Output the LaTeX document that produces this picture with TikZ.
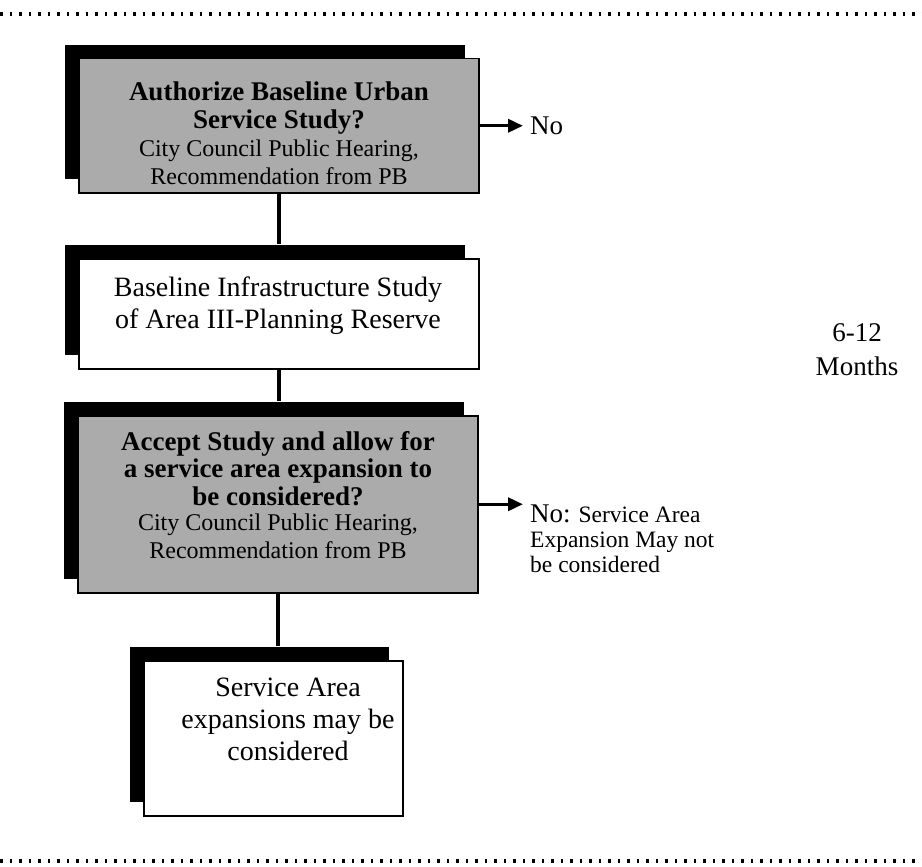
\documentclass[tikz,border=0pt]{standalone}
\usepackage{fontspec}
\setmainfont{Liberation Serif}
\usetikzlibrary{shadows,arrows.meta}
\begin{document}
\begin{tikzpicture}[x=1pt,y=-1pt,
  boxbase/.style={draw=black, line width=1.5pt, rectangle, inner sep=0pt, anchor=north west,
     general shadow={fill=black, shadow xshift=-14pt, shadow yshift=14pt}},
  grayfill/.style={boxbase, fill=black!33},
  whitefill/.style={boxbase, fill=white},
  txt/.style={align=center, inner sep=0pt},
  lbl/.style={align=left, inner sep=0pt},
  link/.style={line width=3.5pt},
  noarrow/.style={line width=3.5pt, -{Triangle[length=15pt,width=13pt]}},
  border/.style={line width=4pt, dash pattern=on 2.5pt off 7pt}]
\useasboundingbox (0,0) rectangle (922,867);
\fill[white] (0,0) rectangle (922,867);

\draw[border] (0,14) -- (922,14);
\draw[border] (0,861) -- (922,861);

\node[grayfill, minimum width=400pt, minimum height=134pt] (b1) at (78,58) {};
\node[whitefill, minimum width=400pt, minimum height=110pt] (b2) at (78,258) {};
\node[grayfill, minimum width=400pt, minimum height=177pt] (b3) at (77,415) {};
\node[whitefill, minimum width=259pt, minimum height=155pt] (b4) at (143,660) {};

\coordinate (b2top) at ([yshift=14pt]b2.north);
\coordinate (b3top) at ([yshift=14pt]b3.north);
\coordinate (b4top) at ([yshift=14pt]b4.north);
\draw[link] (b1.south) -- (b1.south |- b2top);
\draw[link] (b2.south) -- (b2.south |- b3top);
\draw[link] (b3.south) -- (b3.south |- b4top);

\node[txt, font=\fontsize{27}{28}\selectfont\bfseries] (t1) at (279,133) {Authorize Baseline Urban\\Service Study?\\
  \mdseries\fontsize{24}{28}\selectfont City Council Public Hearing,\\\mdseries\fontsize{24}{29}\selectfont Recommendation from PB};
\node[txt, font=\fontsize{28}{32}\selectfont] (t2) at (278,306) {Baseline Infrastructure Study\\of Area III-Planning Reserve};
\node[txt, font=\fontsize{27}{27.5}\selectfont\bfseries] (t3) at (278,495) {Accept Study and allow for\\a service area expansion to\\be considered?\\[-2pt]
  \mdseries\fontsize{24}{25}\selectfont City Council Public Hearing,\\\mdseries\fontsize{24}{25}\selectfont Recommendation from PB};
\node[txt, font=\fontsize{28}{32}\selectfont] (t4) at (288,719) {Service Area\\expansions may be\\considered};

\node[lbl, anchor=west, font=\fontsize{27}{30}\selectfont] (no1) at (530,126) {No};
\draw[noarrow] (b1.east) -- ([xshift=-7pt]b1.east -| no1.west);

\node[lbl, anchor=north west, font=\fontsize{23.5}{25}\selectfont] (no2) at (530,505) {{\fontsize{27}{25}\selectfont No:} Service Area\\Expansion May not\\be considered};
\draw[noarrow] (b3.east) -- ([xshift=-7pt]b3.east -| no2.west);

\node[txt, font=\fontsize{27}{34}\selectfont] (m) at (857,350) {6-12\\Months};
\end{tikzpicture}
\end{document}
